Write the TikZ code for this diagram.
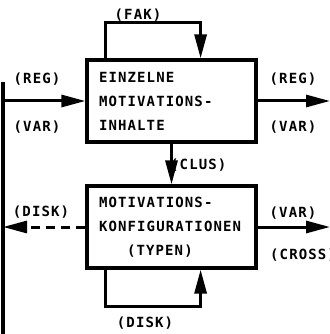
\documentclass[tikz,border=0pt]{standalone}
\usepackage{fontspec}
\setmonofont[LetterSpace=8]{DejaVu Sans Mono}
\usetikzlibrary{arrows.meta,calc}

\tikzset{
    box/.style = {draw, line width=3.2pt, minimum height=82pt, text width=145pt,
        inner xsep=12pt, align=left},
    lbl/.style = {inner sep=0pt},
    flow/.style = {line width=3pt, -{Triangle[length=24pt,width=12pt]}},
}

\begin{document}
\begin{tikzpicture}[x=1pt,y=1pt,font=\ttfamily\bfseries\fontsize{14}{24}\selectfont]
    \useasboundingbox (0,0) rectangle (329,-334);
    %%Boxes
    \node[box] (einzel) at (171.5,-101) {EINZELNE\\MOTIVATIONS-\\INHALTE};
    \node[box] (konfig) at (171.5,-227) {MOTIVATIONS-\\KONFIGURATIONEN\\\hspace*{28pt}(TYPEN)};
    %%Side line and edge
    \coordinate (lt) at (3,-82);
    \coordinate (lb) at (3,-340);
    \coordinate (re) at (330,0);
    \draw[line width=3.5pt] (lt) -- (lb);
    %%Arrows
    \draw[flow] (einzel.west -| lt) -- (einzel.west);
    \draw[flow] (einzel.east) -- (einzel.east -| re);
    \draw[flow] (einzel.south) -- (konfig.north);
    \draw[flow] (konfig.east) -- (konfig.east -| re);
    \draw[flow, dash pattern=on 9pt off 6pt] (konfig.west) -- (konfig.west -| lt);
    %%Loops
    \draw[flow] ([xshift=20]einzel.north west) -- ++(0,36) -| ([xshift=-57]einzel.north east);
    \draw[flow] ([xshift=20]konfig.south west) -- ++(0,-37) -| ([xshift=-57]konfig.south east);
    %%Labels
    \node[lbl] (fak) at (138,-15) {(FAK)};
    \node[lbl] (regl) at (37,-79) {(REG)};
    \node[lbl] (varl) at (37,-127) {(VAR)};
    \node[lbl] (regr) at (293,-79) {(REG)};
    \node[lbl] (varr) at (293,-127) {(VAR)};
    \node[lbl, anchor=west] (clus) at (170,-165) {(CLUS)};
    \node[lbl] (diskl) at (41,-212) {(DISK)};
    \node[lbl] (varc) at (293,-213) {(VAR)};
    \node[lbl, anchor=west] (cross) at (270,-255) {(CROSS)};
    \node[lbl] (diskb) at (145,-323) {(DISK)};
\end{tikzpicture}
\end{document}
